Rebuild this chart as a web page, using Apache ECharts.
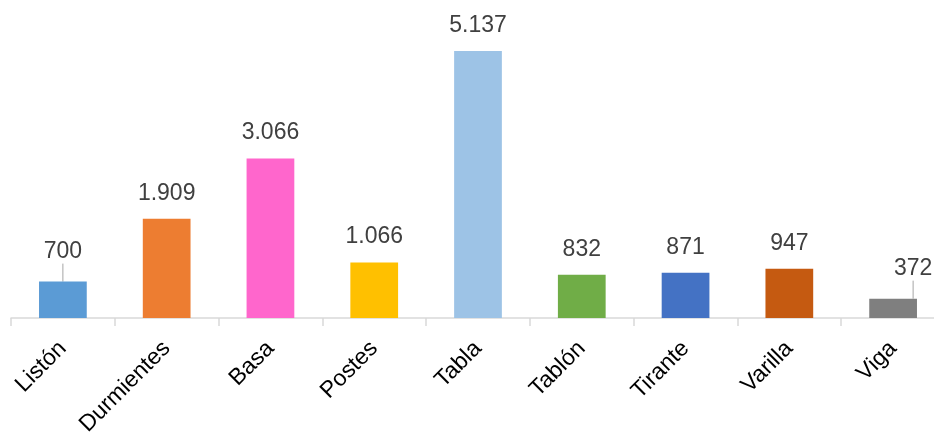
<!DOCTYPE html>
<html>
<head>
<meta charset="utf-8">
<script src="https://cdn.jsdelivr.net/npm/echarts@6/dist/echarts.min.js"></script>
<style>
html,body{margin:0;padding:0;background:#fff;}
#chart{width:934px;height:433px;}
</style>
</head>
<body>
<div id="chart"></div>
<script>
var categories = ['Listón','Durmientes','Basa','Postes','Tabla','Tablón','Tirante','Varilla','Viga'];
var values = [700, 1909, 3066, 1066, 5137, 832, 871, 947, 372];
var colors = ['#5B9BD5','#ED7D31','#FF66CC','#FFC000','#9DC3E6','#70AD47','#4472C4','#C55A11','#7F7F7F'];
var calloutIndex = [0, 8];

function fmt(v){
  return String(v).replace(/\B(?=(\d{3})+(?!\d))/g, '.');
}

var chart = echarts.init(document.getElementById('chart'), null, {renderer:'canvas'});
var data = values.map(function(v,i){
  var d = {value: v, itemStyle: {color: colors[i]}};
  if (calloutIndex.indexOf(i) >= 0) d.labelLine = {show: true};
  return d;
});
chart.setOption({
  animation: false,
  grid: {left: 11, width: 934, top: 6, bottom: 115, containLabel: false, outerBoundsMode: 'none'},
  xAxis: {
    type: 'category',
    data: categories,
    axisLine: {lineStyle: {color: '#d9d9d9', width: 1.5}},
    axisTick: {show: true, length: 8, lineStyle: {color: '#d9d9d9', width: 1.5}},
    axisLabel: {rotate: 45, margin: 27, color: '#000', fontSize: 23, fontFamily: 'Liberation Sans', interval: 0, hideOverlap: false}
  },
  yAxis: {type: 'value', min: 0, max: 6000, show: false, splitLine: {show: false}},
  series: [{
    type: 'bar',
    data: data,
    barWidth: '46%',
    label: {
      show: true, position: 'top', distance: 14,
      color: '#404040', fontSize: 23, fontFamily: 'Liberation Sans',
      formatter: function(p){ return fmt(p.value); }
    },
    labelLine: {lineStyle: {color: '#a6a6a6', width: 1}},
    labelLayout: function(p){
      if (p.dataIndex === 0) return {dy: -4};
      if (p.dataIndex === 8) return {dx: 20, dy: -4};
      return {};
    }
  }]
});
</script>
</body>
</html>
